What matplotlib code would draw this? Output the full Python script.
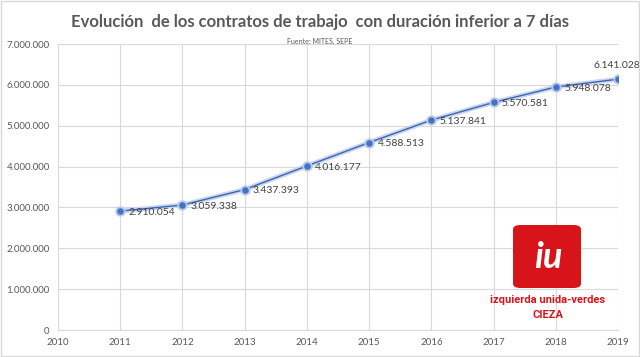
import matplotlib.pyplot as plt
from matplotlib.patches import FancyBboxPatch
import matplotlib.patheffects as pe

years = [2011, 2012, 2013, 2014, 2015, 2016, 2017, 2018, 2019]
values = [2910054, 3059338, 3437393, 4016177, 4588513, 5137841, 5570581, 5948078, 6141028]
labels = ["2.910.054", "3.059.338", "3.437.393", "4.016.177", "4.588.513",
          "5.137.841", "5.570.581", "5.948.078", "6.141.028"]
yticks = [0, 1000000, 2000000, 3000000, 4000000, 5000000, 6000000, 7000000]
ytick_labels = ["0", "1.000.000", "2.000.000", "3.000.000", "4.000.000",
                "5.000.000", "6.000.000", "7.000.000"]
xticks = list(range(2010, 2020))

plt.rcParams['font.family'] = ['Lato', 'DejaVu Sans']
fig = plt.figure(figsize=(6.4, 3.57), dpi=100)
fig.patch.set_facecolor('white')
ax = fig.add_axes([0.0906, 0.0756, 0.875, 0.801])

ax.plot(years, values, color='#3d65b0', lw=1.0, zorder=3,
        path_effects=[pe.Stroke(linewidth=3.5, foreground='#c9d6ee'), pe.Normal()])
ax.scatter(years, values, s=55, color='#b8c9ea', zorder=4, linewidths=0)
ax.scatter(years, values, s=22, color='#4472C4', zorder=5, linewidths=0)

for i, (x, y, t) in enumerate(zip(years, values, labels)):
    if i == len(years) - 1:
        ax.annotate(t, (x, y), xytext=(-1, 10), textcoords='offset points',
                    ha='center', va='center', fontsize=7.5, color='#404040')
    else:
        ax.annotate(t, (x, y), xytext=(6, -1), textcoords='offset points',
                    ha='left', va='center', fontsize=7.5, color='#404040')

ax.set_xlim(2010, 2019)
ax.set_ylim(0, 7000000)
ax.set_xticks(xticks)
ax.set_xticklabels([str(x) for x in xticks])
ax.set_yticks(yticks)
ax.set_yticklabels(ytick_labels)
ax.tick_params(axis='both', length=0, labelsize=7, labelcolor='#595959', pad=6)
ax.grid(True, color='#d9d9d9', lw=0.8)
ax.set_axisbelow(True)
for s in ['top', 'right', 'left']:
    ax.spines[s].set_visible(False)
ax.spines['bottom'].set_color('#d9d9d9')

fig.text(0.5, 0.938, "Evolución  de los contratos de trabajo  con duración inferior a 7 días",
         ha='center', va='center', fontsize=12, color='#595959', fontweight='bold')
fig.text(0.5, 0.885, "Fuente: MITES, SEPE", ha='center', va='center', fontsize=5, color='#595959')

# logo
logo = FancyBboxPatch((513 / 640, 1 - 288 / 357), 68 / 640, 63 / 357,
                      boxstyle="round,pad=0.0,rounding_size=0.012",
                      transform=fig.transFigure, facecolor='#d7141a', edgecolor='none', zorder=10)
fig.patches.append(logo)
fig.text(548 / 640, 1 - 257 / 357, "iu", ha='center', va='center', fontsize=26,
         color='white', fontweight='bold', style='italic', zorder=11)
fig.text(548 / 640, 1 - 300 / 357, "izquierda unida-verdes", ha='center', va='center',
         fontsize=8, color='#d7141a', fontweight='bold', family=['Roboto', 'DejaVu Sans'],
         stretch='condensed')
fig.text(548 / 640, 1 - 315 / 357, "CIEZA", ha='center', va='center',
         fontsize=8, color='#d7141a', fontweight='bold', family=['Roboto', 'DejaVu Sans'])

border = plt.Rectangle((0.002, 0.003), 0.996, 0.994, transform=fig.transFigure,
                       fill=False, edgecolor='#d9d9d9', lw=1)
fig.patches.append(border)

fig.savefig('out.png', dpi=100)
